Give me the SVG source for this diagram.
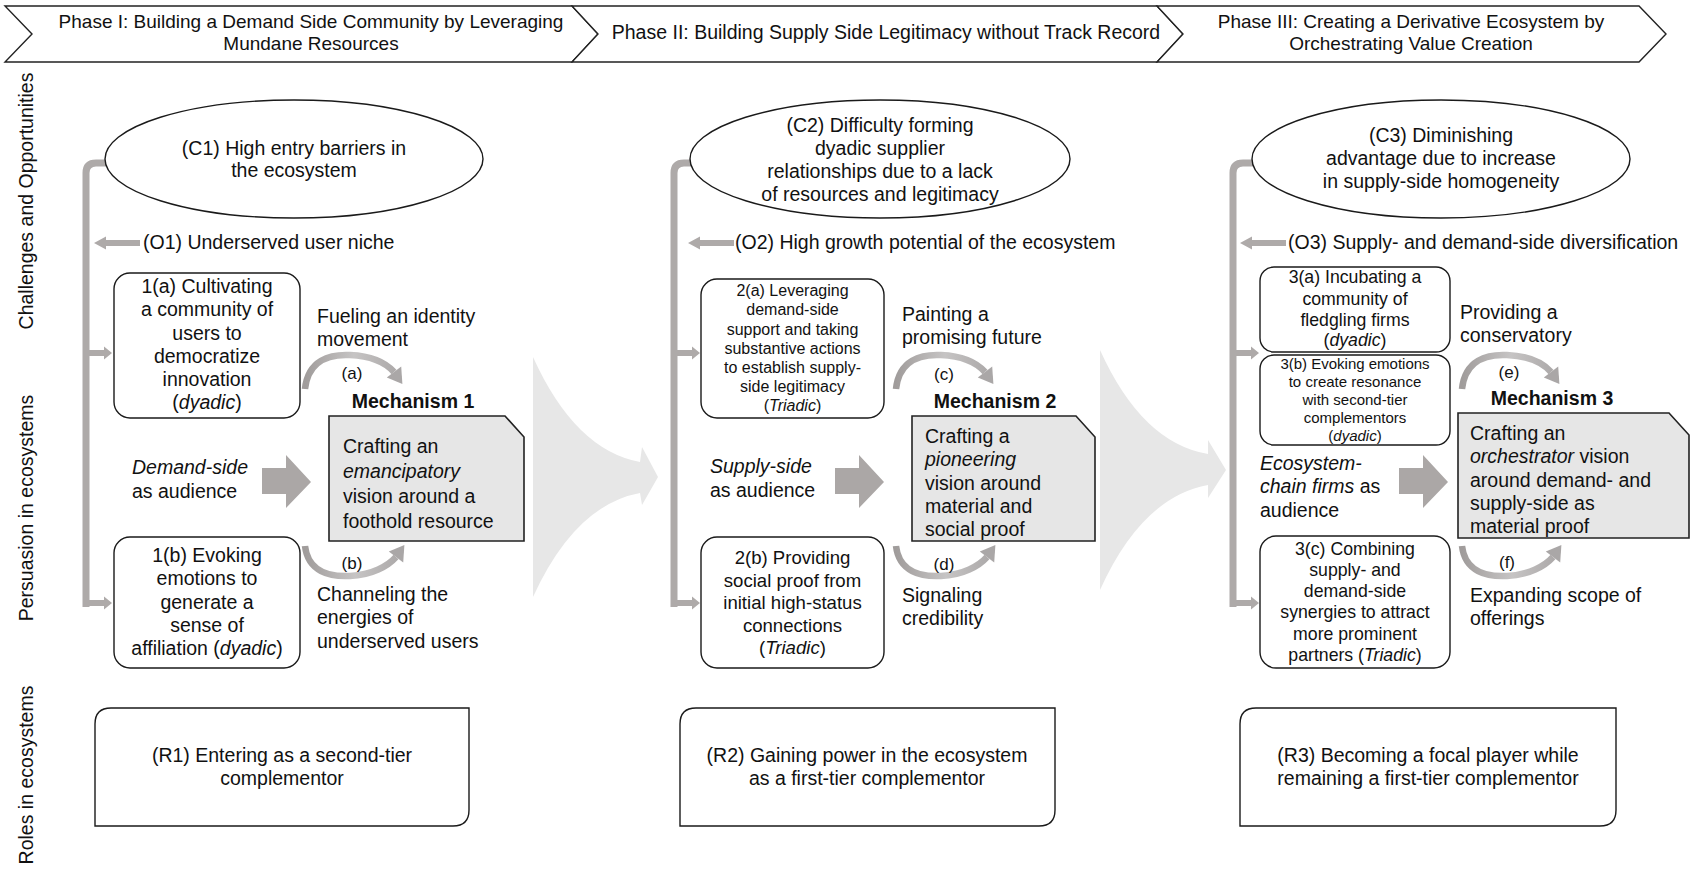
<svg xmlns="http://www.w3.org/2000/svg" width="1694" height="873" viewBox="0 0 1694 873">
<style>
text{font-family:"Liberation Sans",Arial,Helvetica,sans-serif;font-size:19.5px;fill:#111}
.c{text-anchor:middle}
.i{font-style:italic}
.b{font-weight:bold}
.hdr{fill:#fff;stroke:#222;stroke-width:1.4}
.box{fill:#fff;stroke:#1a1a1a;stroke-width:1.4}
.ell{fill:#fff;stroke:#1a1a1a;stroke-width:1.4}
.mech{fill:#e6e6e6;stroke:#222;stroke-width:1.6}
.brk{fill:none;stroke:#aeaaa9;stroke-width:7}
.ga{fill:#aeaaa9}
.blk{fill:#aba7a6}
.trans{fill:#e7e7e7}
.arc{fill:none;stroke:url(#arcg);stroke-width:6.5}
.arch{fill:#aaa7a7}
.s16{font-size:16px}
.s15{font-size:15px}
.s17{font-size:17.7px}
.s18{font-size:18.6px}
.lab{font-size:17px}
.h2{font-size:19px}
</style>
<defs>
<linearGradient id="arcg" x1="0" y1="0" x2="1" y2="0">
<stop offset="0" stop-color="#a09c9b"/>
<stop offset="0.55" stop-color="#c6c4c4"/>
<stop offset="1" stop-color="#aeabab"/>
</linearGradient>
<g id="arcUp">
<path class="arc" d="M305,389 C308,360 330,354 350,355 C372,356 386,363 394,372"/>
<polygon class="arch" points="402.4,384 401.2,366.6 386.8,377.4"/>
</g>
<g id="arcDown">
<path class="arc" d="M305,546 C308,572 330,577 350,576 C372,575 388,566 396,557"/>
<polygon class="arch" points="404.4,545 403.2,562.4 388.8,551.6"/>
</g>
<polygon id="oArrow" points="0,0 12,-6.5 12,-3 46,-3 46,3 12,3 12,6.5"/>
<polygon id="bArrow" points="0,-3 18,-3 18,-6.5 26,0 18,6.5 18,3 0,3"/>
<polygon id="blockArrow" points="0,-14 24,-14 24,-27 49,0 24,26 24,12 0,12"/>
</defs>

<rect width="1694" height="873" fill="#fff"/>

<!-- Header -->
<g id="phase-1">
<polygon class="hdr" points="5,6 572,6 598,34 572,62 5,62 32,34"/>
<text class="c h2" x="311" y="28">Phase I: Building a Demand Side Community by Leveraging</text>
<text class="c h2" x="311" y="50">Mundane Resources</text>
</g>
<g id="phase-2">
<polygon class="hdr" points="572,6 1157,6 1183,34 1157,62 572,62 598,34"/>
<text class="c" x="886" y="39">Phase II: Building Supply Side Legitimacy without Track Record</text>
</g>
<g id="phase-3">
<polygon class="hdr" points="1157,6 1639,6 1666,34 1639,62 1157,62 1183,34"/>
<text class="c h2" x="1411" y="28">Phase III: Creating a Derivative Ecosystem by</text>
<text class="c h2" x="1411" y="50">Orchestrating Value Creation</text>
</g>

<!-- Row labels -->
<g id="row-labels">
<text class="c" transform="translate(33,201) rotate(-90)">Challenges and Opportunities</text>
<text class="c" transform="translate(33,508) rotate(-90)">Persuasion in ecosystems</text>
<text class="c" transform="translate(33,775) rotate(-90)">Roles in ecosystems</text>
</g>

<!-- Connectors -->
<g id="connectors">
<path class="trans" d="M533,357 Q575,450 640,462 L642,447 L658,477 L642,505 L640,493 Q575,505 533,597 Z"/>
<path class="trans" d="M1100,350 Q1142,443 1208,454 L1208,440 L1226,470 L1208,498 L1208,485 Q1142,497 1100,590 Z"/>

<path class="brk" d="M107,163 H96 Q86,163 86,173 V607"/>
<use href="#oArrow" class="ga" x="94" y="243"/>
<use href="#bArrow" class="ga" x="86" y="353"/>
<use href="#bArrow" class="ga" x="86" y="603"/>

<path class="brk" d="M692,163 H684 Q674,163 674,173 V607"/>
<use href="#oArrow" class="ga" x="688" y="243"/>
<use href="#bArrow" class="ga" x="674" y="353"/>
<use href="#bArrow" class="ga" x="674" y="603"/>

<path class="brk" d="M1253,163 H1243 Q1233,163 1233,173 V607"/>
<use href="#oArrow" class="ga" x="1240" y="243"/>
<use href="#bArrow" class="ga" x="1233" y="353"/>
<use href="#bArrow" class="ga" x="1233" y="603"/>

<use href="#blockArrow" class="blk" x="262" y="482"/>
<use href="#blockArrow" class="blk" x="835" y="482"/>
<use href="#blockArrow" class="blk" x="1399" y="482"/>

<use href="#arcUp"/>
<use href="#arcDown"/>
<use href="#arcUp" x="591"/>
<use href="#arcDown" x="591"/>
<use href="#arcUp" x="1157"/>
<use href="#arcDown" x="1157"/>
</g>

<!-- Phase I nodes -->
<g id="C1">
<ellipse class="ell" cx="294" cy="159" rx="189" ry="59"/>
<text class="c" x="294" y="155">(C1) High entry barriers in</text>
<text class="c" x="294" y="177">the ecosystem</text>
</g>
<g id="O1"><text x="143" y="249">(O1) Underserved user niche</text></g>
<g id="node-1a">
<rect class="box" x="114" y="273" width="186" height="145" rx="16"/>
<text class="c" x="207" y="293">1(a) Cultivating</text>
<text class="c" x="207" y="316">a community of</text>
<text class="c" x="207" y="339.5">users to</text>
<text class="c" x="207" y="362.5">democratize</text>
<text class="c" x="207" y="386">innovation</text>
<text class="c" x="207" y="409">(<tspan class="i">dyadic</tspan>)</text>
</g>
<g id="node-1b">
<rect class="box" x="114" y="537" width="186" height="131" rx="16"/>
<text class="c" x="207" y="562">1(b) Evoking</text>
<text class="c" x="207" y="585">emotions to</text>
<text class="c" x="207" y="608.5">generate a</text>
<text class="c" x="207" y="631.5">sense of</text>
<text class="c" x="207" y="655">affiliation (<tspan class="i">dyadic</tspan>)</text>
</g>
<g id="label-a">
<text x="317" y="323">Fueling an identity</text>
<text x="317" y="346">movement</text>
<text class="lab c" x="352" y="379">(a)</text>
</g>
<g id="label-b">
<text class="lab c" x="352" y="569">(b)</text>
<text x="317" y="601">Channeling the</text>
<text x="317" y="624">energies of</text>
<text x="317" y="648">underserved users</text>
</g>
<g id="audience-1">
<text class="i" x="132" y="474">Demand-side</text>
<text x="132" y="497.5">as audience</text>
</g>
<g id="mechanism-1">
<text class="c b" x="413" y="408">Mechanism 1</text>
<polygon class="mech" points="329,416 505,416 524,437 524,541 329,541"/>
<text x="343" y="453">Crafting an</text>
<text class="i" x="343" y="478">emancipatory</text>
<text x="343" y="503">vision around a</text>
<text x="343" y="528">foothold resource</text>
</g>
<g id="R1">
<path class="box" d="M111,708 H469 V810 Q469,826 453,826 H95 V724 Q95,708 111,708 Z"/>
<text class="c" x="282" y="762">(R1) Entering as a second-tier</text>
<text class="c" x="282" y="785">complementor</text>
</g>

<!-- Phase II nodes -->
<g id="C2">
<ellipse class="ell" cx="880" cy="159" rx="190" ry="59"/>
<text class="c" x="880" y="132">(C2) Difficulty forming</text>
<text class="c" x="880" y="155">dyadic supplier</text>
<text class="c" x="880" y="178">relationships due to a lack</text>
<text class="c" x="880" y="201">of resources and legitimacy</text>
</g>
<g id="O2"><text x="735" y="249">(O2) High growth potential of the ecosystem</text></g>
<g id="node-2a">
<rect class="box" x="701" y="279" width="183" height="139" rx="16"/>
<text class="c s16" x="792.5" y="296">2(a) Leveraging</text>
<text class="c s16" x="792.5" y="315">demand-side</text>
<text class="c s16" x="792.5" y="334.5">support and taking</text>
<text class="c s16" x="792.5" y="353.5">substantive actions</text>
<text class="c s16" x="792.5" y="373">to establish supply-</text>
<text class="c s16" x="792.5" y="392">side legitimacy</text>
<text class="c s16" x="792.5" y="410.5">(<tspan class="i">Triadic</tspan>)</text>
</g>
<g id="node-2b">
<rect class="box" x="701" y="537" width="183" height="131" rx="16"/>
<text class="c s18" x="792.5" y="564">2(b) Providing</text>
<text class="c s18" x="792.5" y="587">social proof from</text>
<text class="c s18" x="792.5" y="609">initial high-status</text>
<text class="c s18" x="792.5" y="632">connections</text>
<text class="c s18" x="792.5" y="654">(<tspan class="i">Triadic</tspan>)</text>
</g>
<g id="label-c">
<text x="902" y="321">Painting a</text>
<text x="902" y="344">promising future</text>
<text class="lab c" x="944" y="380">(c)</text>
</g>
<g id="label-d">
<text class="lab c" x="944" y="570">(d)</text>
<text x="902" y="601.5">Signaling</text>
<text x="902" y="624.5">credibility</text>
</g>
<g id="audience-2">
<text class="i" x="710" y="473">Supply-side</text>
<text x="710" y="497">as audience</text>
</g>
<g id="mechanism-2">
<text class="c b" x="995" y="408">Mechanism 2</text>
<polygon class="mech" points="912,416 1076,416 1095,437 1095,541 912,541"/>
<text x="925" y="443">Crafting a</text>
<text class="i" x="925" y="466">pioneering</text>
<text x="925" y="489.5">vision around</text>
<text x="925" y="513">material and</text>
<text x="925" y="536">social proof</text>
</g>
<g id="R2">
<path class="box" d="M696,708 H1055 V810 Q1055,826 1039,826 H680 V724 Q680,708 696,708 Z"/>
<text class="c" x="867" y="762">(R2) Gaining power in the ecosystem</text>
<text class="c" x="867" y="785">as a first-tier complementor</text>
</g>

<!-- Phase III nodes -->
<g id="C3">
<ellipse class="ell" cx="1441" cy="159" rx="189" ry="59"/>
<text class="c" x="1441" y="142">(C3) Diminishing</text>
<text class="c" x="1441" y="165">advantage due to increase</text>
<text class="c" x="1441" y="188">in supply-side homogeneity</text>
</g>
<g id="O3"><text x="1288" y="249">(O3) Supply- and demand-side diversification</text></g>
<g id="node-3a">
<rect class="box" x="1260" y="267" width="190" height="85" rx="14"/>
<text class="c s17" x="1355" y="283">3(a) Incubating a</text>
<text class="c s17" x="1355" y="304.5">community of</text>
<text class="c s17" x="1355" y="325.5">fledgling firms</text>
<text class="c s17" x="1355" y="346">(<tspan class="i">dyadic</tspan>)</text>
</g>
<g id="node-3b">
<rect class="box" x="1260" y="355" width="190" height="90" rx="14"/>
<text class="c s15" x="1355" y="368.5">3(b) Evoking emotions</text>
<text class="c s15" x="1355" y="387">to create resonance</text>
<text class="c s15" x="1355" y="405">with second-tier</text>
<text class="c s15" x="1355" y="423">complementors</text>
<text class="c s15" x="1355" y="441">(<tspan class="i">dyadic</tspan>)</text>
</g>
<g id="node-3c">
<rect class="box" x="1260" y="536" width="190" height="132" rx="16"/>
<text class="c s17" x="1355" y="554.5">3(c) Combining</text>
<text class="c s17" x="1355" y="575.5">supply- and</text>
<text class="c s17" x="1355" y="597">demand-side</text>
<text class="c s17" x="1355" y="618">synergies to attract</text>
<text class="c s17" x="1355" y="639.5">more prominent</text>
<text class="c s17" x="1355" y="660.5">partners (<tspan class="i">Triadic</tspan>)</text>
</g>
<g id="label-e">
<text x="1460" y="319">Providing a</text>
<text x="1460" y="342">conservatory</text>
<text class="lab c" x="1509" y="378">(e)</text>
</g>
<g id="label-f">
<text class="lab c" x="1507" y="568">(f)</text>
<text x="1470" y="602">Expanding scope of</text>
<text x="1470" y="625">offerings</text>
</g>
<g id="audience-3">
<text class="i" x="1260" y="470">Ecosystem-</text>
<text x="1260" y="493"><tspan class="i">chain firms</tspan> as</text>
<text x="1260" y="517">audience</text>
</g>
<g id="mechanism-3">
<text class="c b" x="1552" y="405">Mechanism 3</text>
<polygon class="mech" points="1458,413 1669,413 1689,435 1689,538 1458,538"/>
<text x="1470" y="440">Crafting an</text>
<text x="1470" y="463"><tspan class="i">orchestrator</tspan> vision</text>
<text x="1470" y="487">around demand- and</text>
<text x="1470" y="510">supply-side as</text>
<text x="1470" y="533">material proof</text>
</g>
<g id="R3">
<path class="box" d="M1256,708 H1616 V810 Q1616,826 1600,826 H1240 V724 Q1240,708 1256,708 Z"/>
<text class="c" x="1428" y="762">(R3) Becoming a focal player while</text>
<text class="c" x="1428" y="785">remaining a first-tier complementor</text>
</g>
</svg>
